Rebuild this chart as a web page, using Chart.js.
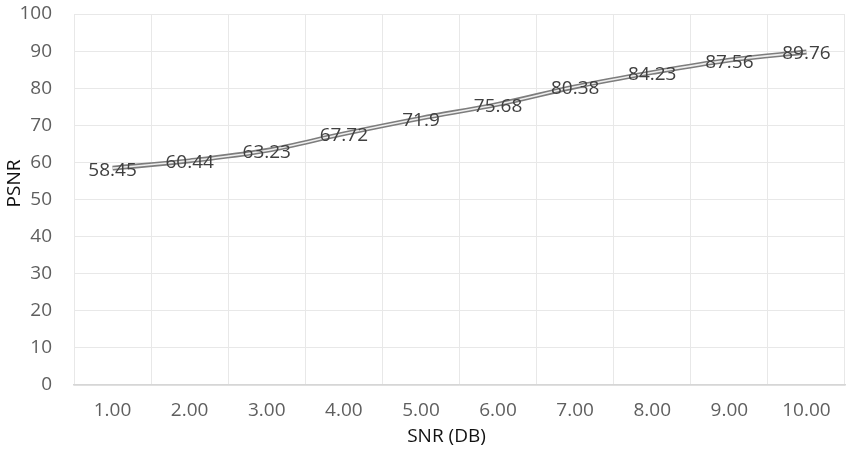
<!DOCTYPE html>
<html>
<head>
<meta charset="utf-8">
<script src="https://cdn.jsdelivr.net/npm/chart.js@4"></script>
<style>
  html, body { margin: 0; padding: 0; background: #fff; }
  #wrap { width: 860px; height: 455px; }
</style>
</head>
<body>
<div id="wrap"><canvas id="psnrChart" width="860" height="455"></canvas></div>
<script>
const snrLabels = ['1.00', '2.00', '3.00', '4.00', '5.00', '6.00', '7.00', '8.00', '9.00', '10.00'];
const psnrValues = [58.45, 60.44, 63.23, 67.72, 71.9, 75.68, 80.38, 84.23, 87.56, 89.76];
const yTicks = [0, 10, 20, 30, 40, 50, 60, 70, 80, 90, 100];
const xTitle = 'SNR (DB)';
const yTitle = 'PSNR';

const FONT = '"Open Sans", sans-serif';

// value labels sit right on top of each point
const pointLabels = {
    id: 'pointLabels',
    afterDatasetsDraw(chart) {
        const ctx = chart.ctx;
        const meta = chart.getDatasetMeta(0);
        ctx.save();
        ctx.font = '19px ' + FONT;
        ctx.fillStyle = '#404040';
        ctx.textAlign = 'center';
        ctx.textBaseline = 'middle';
        meta.data.forEach((pt, i) => {
            ctx.fillText(String(psnrValues[i]), pt.x, pt.y + 2);
        });
        ctx.restore();
    }
};

// axis titles, placed a little off the plot centre like the office-style chart
const axisTitles = {
    id: 'axisTitles',
    afterDraw(chart) {
        const { ctx, chartArea: a } = chart;
        ctx.save();
        ctx.font = '19px ' + FONT;
        ctx.fillStyle = '#111';
        ctx.textAlign = 'center';
        ctx.textBaseline = 'middle';
        ctx.fillText(xTitle, (a.left + a.right) / 2 - 13, chart.height - 18);
        ctx.translate(15, (a.top + a.bottom) / 2 - 16);
        ctx.rotate(-Math.PI / 2);
        ctx.fillText(yTitle, 0, 0);
        ctx.restore();
    }
};

const ctx = document.getElementById('psnrChart').getContext('2d');

new Chart(ctx, {
    type: 'line',
    data: {
        labels: snrLabels,
        datasets: [
            {
                // outer grey stroke
                data: psnrValues,
                borderColor: '#7d7d7d',
                borderWidth: 4.8,
                tension: 0.35,
                pointRadius: 0,
                order: 2
            },
            {
                // thin light core, gives the double-line look
                data: psnrValues,
                borderColor: '#eeeeee',
                borderWidth: 1.6,
                tension: 0.35,
                pointRadius: 0,
                order: 1
            }
        ]
    },
    options: {
        responsive: false,
        animation: false,
        layout: { padding: { top: 0, right: 15, left: 4, bottom: 7 } },
        plugins: {
            legend: { display: false },
            tooltip: { enabled: false }
        },
        scales: {
            x: {
                offset: true,
                afterFit: (axis) => { axis.height = 63; },
                grid: {
                    offset: true,
                    drawTicks: false,
                    color: (c) => c.index === snrLabels.length ? 'transparent' : '#e8e8e8'
                },
                border: { color: '#d6d6d6', width: 1.5 },
                ticks: { color: '#5f5f5f', font: { family: FONT, size: 19 }, padding: 14 },
                title: { display: false }
            },
            y: {
                min: 0,
                max: 100,
                afterFit: (axis) => {
                    axis.width = 70;
                    // tick padding should not push the plot down from the top
                    axis.paddingTop = 14;
                    axis.paddingBottom = 0;
                },
                afterBuildTicks: (axis) => { axis.ticks = yTicks.map(v => ({ value: v })); },
                grid: { drawTicks: false, color: '#e8e8e8' },
                border: { display: false },
                ticks: { color: '#5f5f5f', font: { family: FONT, size: 19 }, padding: 22 },
                title: { display: false }
            }
        }
    },
    plugins: [pointLabels, axisTitles]
});
</script>
</body>
</html>
